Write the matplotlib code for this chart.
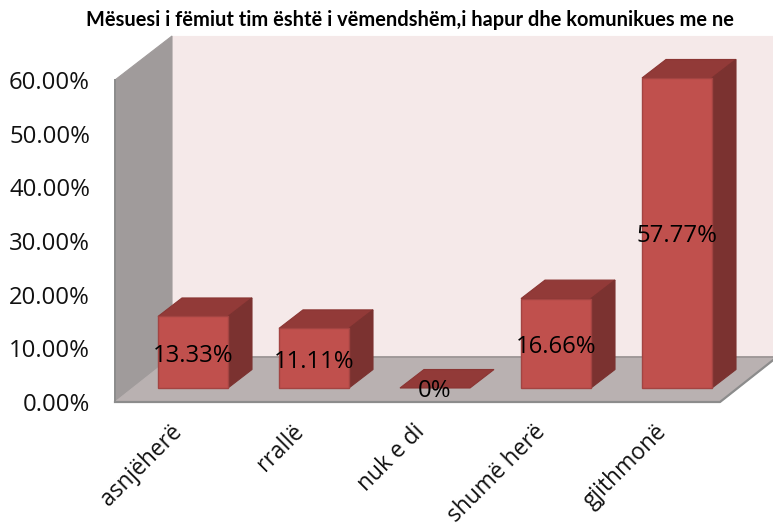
# Bar chart with a fake 3D look, drawn on a plain axes
import matplotlib
matplotlib.use("Agg")
import matplotlib.pyplot as plt
from matplotlib.patches import Polygon
from matplotlib.transforms import ScaledTranslation

categories = ["asnjëherë", "rrallë", "nuk e di", "shumë herë", "gjithmonë"]
values = [13.33, 11.11, 0, 16.66, 57.77]
value_labels = ["13.33%", "11.11%", "0%", "16.66%", "57.77%"]
y_ticks = [0, 10, 20, 30, 40, 50, 60]
y_tick_labels = ["0.00%", "10.00%", "20.00%", "30.00%", "40.00%", "50.00%", "60.00%"]
title = "Mësuesi i fëmiut tim është i vëmendshëm,i hapur dhe komunikues me ne"

plt.rcParams["font.family"] = "Open Sans"

W, H = 773, 527
# axes is the front plane of the box, in pixels of the figure
left, right, top, bottom = 115, 720, 80, 402
xscale = (right - left) / 5  # px per category
yscale = (bottom - top) / 60  # px per percent


def dx(px):
    return px / xscale


def dy(px):
    return px / yscale


fig = plt.figure(figsize=(W / 100, H / 100), dpi=100, facecolor="white")
ax = fig.add_axes([left / W, 1 - bottom / H, (right - left) / W, (bottom - top) / H])
ax.set_xlim(-0.5, 4.5)
ax.set_ylim(0, 60)
ax.patch.set_visible(False)
for s in ax.spines.values():
    s.set_visible(False)

# box depth
box_x, box_y = dx(57), dy(45)
wall_top = 60 + dy(44)
x0, x1 = -0.5, 4.5


def face(pts, fc, ec=None, lw=0.8, z=1):
    ax.add_patch(Polygon(pts, closed=True, facecolor=fc, edgecolor=ec if ec else fc,
                         linewidth=lw, zorder=z, clip_on=False))


# back wall, left wall, floor
face([(x0 + box_x, box_y), (x1 + box_x, box_y), (x1 + box_x, wall_top), (x0 + box_x, wall_top)],
     "#f5e9e9", z=1)
face([(x0, 0), (x0 + box_x, box_y), (x0 + box_x, wall_top), (x0, 60)], "#a09b9b", z=2)
face([(x0, 0), (x1, 0), (x1 + box_x, box_y), (x0 + box_x, box_y)], "#b9b1b1", z=2)
ax.plot([x0, x1, x1 + box_x], [0, 0, box_y], color="#8c8c8c", lw=1.6, zorder=3, clip_on=False)
ax.plot([x0, x0], [0, 60], color="#8c8c8c", lw=1.4, zorder=3, clip_on=False)
ax.plot([x0 + box_x, x1 + box_x], [box_y, box_y], color="#9a9494", lw=1.2, zorder=3, clip_on=False)

# bars
bar_w = dx(70)
off_x, off_y = dx(17.5), dy(14)
depth_x, depth_y = dx(24), dy(18.5)
for i, v in enumerate(values):
    xa = i + off_x - bar_w / 2
    xb = xa + bar_w
    ya, yb = off_y, off_y + v
    z = 5 + i
    face([(xa, yb), (xb, yb), (xb + depth_x, yb + depth_y), (xa + depth_x, yb + depth_y)],
         "#923a38", ec="#8a3533", z=z)
    if v > 0:
        face([(xb, ya), (xb + depth_x, ya + depth_y), (xb + depth_x, yb + depth_y), (xb, yb)],
             "#7b3230", ec="#7b3230", z=z)
        face([(xa, ya), (xb, ya), (xb, yb), (xa, yb)], "#c0504d", ec="#a34442", lw=1.0, z=z + 0.5)

for i, v in enumerate(values):
    # labels sit on the middle of the front face, the zero one just under the base
    y = off_y + v / 2 - dy(3.5) if v > 0 else off_y - dy(3)
    ax.text(i + off_x, y, value_labels[i], ha="center", va="center", fontsize=17.2,
            color="black", zorder=20, clip_on=False)

ax.set_yticks(y_ticks)
ax.set_yticklabels(y_tick_labels, fontsize=17.2, color="#111111")
ax.set_xticks(range(len(categories)))
ax.set_xticklabels(categories, fontsize=16.4, color="#111111", rotation=45, ha="right",
                   rotation_mode="anchor")
ax.tick_params(axis="both", length=0)
ax.tick_params(axis="y", pad=18)
ax.tick_params(axis="x", pad=13)
shift = ScaledTranslation(-5 / 100, 0, fig.dpi_scale_trans)
for lab in ax.get_xticklabels():
    lab.set_transform(lab.get_transform() + shift)

fig.text(410 / W, 1 - 20 / H, title, ha="center", va="center", fontsize=14.4,
         fontweight="bold", family="Lato", color="black")

fig.savefig("out.png", dpi=100, facecolor="white")
